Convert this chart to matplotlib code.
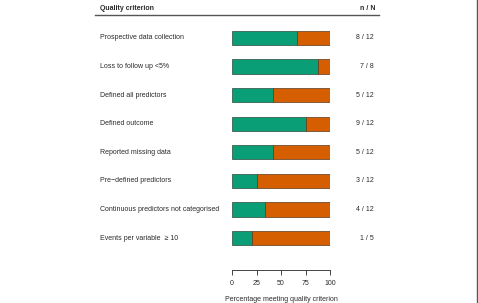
import matplotlib
matplotlib.use("Agg")
import matplotlib.pyplot as plt
from matplotlib.transforms import blended_transform_factory
from matplotlib.lines import Line2D

criteria = ["Prospective data collection", "Loss to follow up <5%", "Defined all predictors",
            "Defined outcome", "Reported missing data", "Pre\u2212defined predictors",
            "Continuous predictors not categorised", "Events per variable  \u2265 10"]
n_met = [8, 7, 5, 9, 5, 3, 4, 1]
n_total = [12, 8, 12, 12, 12, 12, 12, 5]
ticks = [0, 25, 50, 75, 100]

plt.rcParams['font.family'] = ['Liberation Sans', 'DejaVu Sans']
W, H = 478, 303
fig = plt.figure(figsize=(W / 100, H / 100), dpi=100)

def fx(px):
    return px / W

def fy(py):
    return 1 - py / H

green = "#0A9E76"
orange = "#D55E00"
fs = 5.0
tc = "#2a2a2a"

top, bot = 23.7, 252.3
ax = fig.add_axes([fx(232), fy(bot), fx(330) - fx(232), (bot - top) / H])
pct = [100 * m / t for m, t in zip(n_met, n_total)]
ys = list(range(len(criteria)))
ax.barh(ys, pct, height=0.5, color=green, edgecolor="#2b4a3a", linewidth=0.5)
ax.barh(ys, [100 - p for p in pct], left=pct, height=0.5, color=orange, edgecolor="#5a3a20", linewidth=0.5)
ax.set_xlim(0, 100)
ax.set_ylim(len(criteria) - 0.5, -0.5)
for s in ["top", "right", "left"]:
    ax.spines[s].set_visible(False)
ax.spines["bottom"].set_position(("outward", 12.7))
ax.spines["bottom"].set_color("#444444")
ax.spines["bottom"].set_linewidth(0.7)
ax.set_yticks([])
ax.set_xticks(ticks)
ax.tick_params(axis="x", length=3.5, width=0.7, color="#444444", labelsize=fs, pad=4, labelcolor=tc)
ax.set_xlabel("Percentage meeting quality criterion", fontsize=fs, labelpad=6, color=tc)

tr = blended_transform_factory(fig.transFigure, ax.transData)
for y, c, m, t in zip(ys, criteria, n_met, n_total):
    fig.text(fx(100), y, c, transform=tr, fontsize=fs, va="center", ha="left", color=tc)
    fig.text(fx(374), y, f"{m} / {t}", transform=tr, fontsize=fs, va="center", ha="right", color=tc)

fig.text(fx(100), fy(8), "Quality criterion", fontsize=fs, fontweight="bold", va="center", ha="left", color=tc)
fig.text(fx(375), fy(8), "n / N", fontsize=fs, fontweight="bold", va="center", ha="right", color=tc)
fig.add_artist(Line2D([fx(95), fx(379)], [fy(15), fy(15)], color="#555555", linewidth=1.0))
fig.add_artist(Line2D([fx(477), fx(477)], [0, 1], color="#555555", linewidth=1.0))

fig.savefig("out.png", dpi=100)
